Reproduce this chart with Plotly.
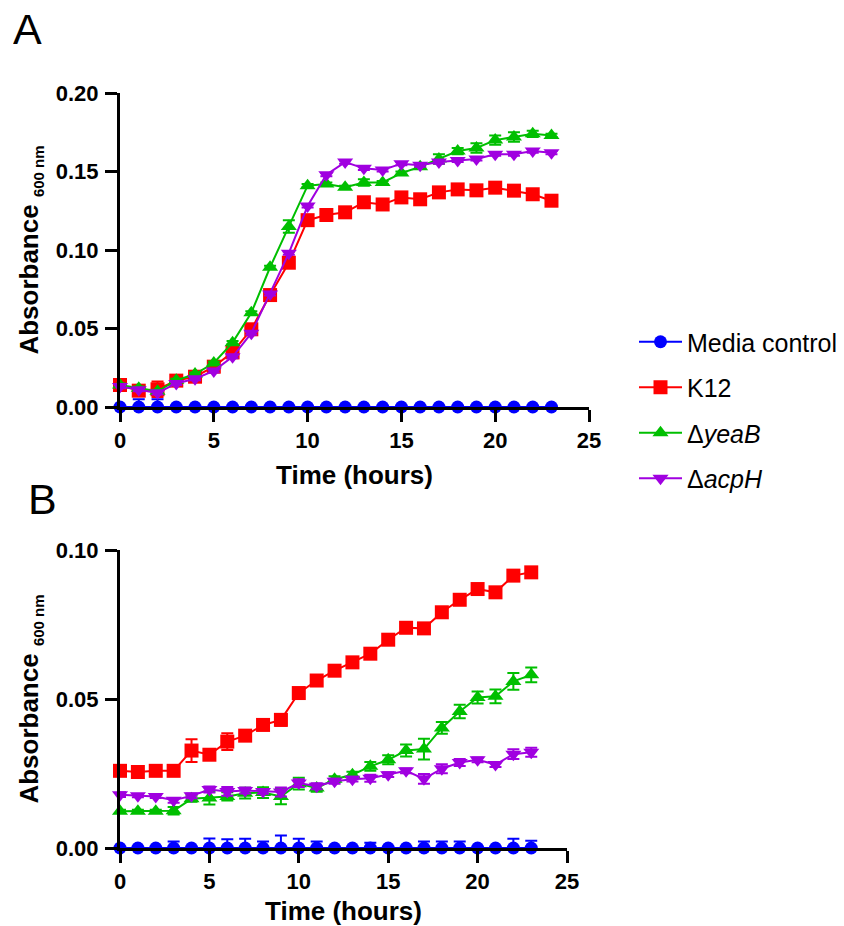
import plotly.graph_objects as go

hours = list(range(24))

# Panel A
a_media = [0.0] * 24
a_k12 = [0.014, 0.0104, 0.0113, 0.0168, 0.0193, 0.0257, 0.0348, 0.0495, 0.0713, 0.0919,
         0.119, 0.1223, 0.124, 0.1304, 0.129, 0.1335, 0.1323, 0.1367, 0.1386, 0.138,
         0.1397, 0.1378, 0.1355, 0.1314]
a_yeab = [0.014, 0.012, 0.010, 0.017, 0.021, 0.028, 0.041, 0.060, 0.089, 0.115,
          0.141, 0.142, 0.140, 0.143, 0.143, 0.149, 0.153, 0.158, 0.163, 0.165,
          0.170, 0.172, 0.174, 0.173]
a_acph = [0.013, 0.011, 0.009, 0.015, 0.018, 0.023, 0.032, 0.047, 0.072, 0.098,
          0.128, 0.148, 0.156, 0.152, 0.151, 0.155, 0.154, 0.156, 0.157, 0.158,
          0.161, 0.161, 0.163, 0.162]
a_media_err = [0, 0.005, 0.005] + [0] * 21
a_k12_err = [0.001, 0.003, 0.005] + [0.001] * 21
a_yeab_err = [0.001] * 9 + [0.004, 0.001, 0.001, 0.001, 0.002, 0.001, 0.001, 0.001, 0.003,
                            0.002, 0.003, 0.003, 0.003, 0.002, 0.001]
a_acph_err = [0.001] * 24

# Panel B
b_media = [0.0] * 24
b_k12 = [0.0259, 0.0255, 0.0259, 0.0259, 0.0327, 0.0313, 0.0357, 0.0377, 0.0413, 0.0430,
         0.052, 0.0562, 0.0595, 0.0623, 0.0652, 0.0699, 0.0739, 0.0737, 0.0791, 0.0833,
         0.0869, 0.0858, 0.0914, 0.0925]
b_yeab = [0.0123, 0.0123, 0.0123, 0.0125, 0.0165, 0.0168, 0.0173, 0.0184, 0.0186, 0.0173,
          0.0216, 0.0201, 0.0231, 0.0246, 0.0274, 0.0296, 0.0327, 0.0332, 0.0403, 0.0458,
          0.0505, 0.0509, 0.0559, 0.0581]
b_acph = [0.0179, 0.0175, 0.0173, 0.0160, 0.0175, 0.0196, 0.019, 0.0193, 0.019, 0.0188,
          0.0218, 0.0207, 0.0224, 0.0231, 0.0234, 0.0246, 0.0259, 0.0232, 0.0266, 0.0287,
          0.0296, 0.028, 0.0315, 0.0321]
b_media_err = [0, 0, 0, 0.0022, 0, 0.0032, 0.0029, 0.0031, 0.0022, 0.0042, 0.0031, 0.0022,
               0, 0, 0.0018, 0, 0, 0.0022, 0.0022, 0.0022, 0, 0, 0.0031, 0.0024]
b_k12_err = [0.0005, 0.0005, 0.0005, 0.0005, 0.0038, 0.0015, 0.0028, 0.001, 0.001, 0.002,
             0.001, 0.0008, 0.0008, 0.0008, 0.0008, 0.0008, 0.0008, 0.0015, 0.001, 0.001,
             0.0008, 0.001, 0.0018, 0.0016]
b_yeab_err = [0.0005, 0.0005, 0.0005, 0.0013, 0.001, 0.0022, 0.0014, 0.0018, 0.0018, 0.0026,
              0.002, 0.0012, 0.001, 0.001, 0.0015, 0.0015, 0.002, 0.0035, 0.002, 0.0023,
              0.002, 0.0023, 0.0028, 0.0025]
b_acph_err = [0.0008, 0.0005, 0.0005, 0.0008, 0.0008, 0.001, 0.0015, 0.001, 0.0008, 0.0015,
              0.0013, 0.001, 0.0008, 0.0008, 0.0012, 0.0008, 0.0008, 0.0016, 0.0015, 0.0012,
              0.0008, 0.0008, 0.0016, 0.0015]

names = ["Media control", "K12", "Δ<i>yeaB</i>", "Δ<i>acpH</i>"]
colors = ["#0000ff", "#ff0000", "#00bf00", "#a000e0"]
symbols = ["circle", "square", "triangle-up", "triangle-down"]
msizes = [13, 14, 14, 14]

FONT = "Liberation Sans, Arial, sans-serif"
W, H, OFF = 844, 926, 8  # page body margin offset


def px(sx):
    return (sx - OFF) / W


def py(sy):
    return 1 - (sy - OFF) / H


fig = go.Figure()

panels = [
    ("x", "y", [a_media, a_k12, a_yeab, a_acph], [a_media_err, a_k12_err, a_yeab_err, a_acph_err], True),
    ("x2", "y2", [b_media, b_k12, b_yeab, b_acph], [b_media_err, b_k12_err, b_yeab_err, b_acph_err], False),
]
for xa, ya, series, errs, show in panels:
    for i in range(4):
        minus = [0] * len(errs[i]) if i == 0 else errs[i]
        fig.add_trace(go.Scatter(
            x=hours, y=series[i], xaxis=xa, yaxis=ya,
            mode="lines+markers", name=names[i], showlegend=show,
            legendgroup=f"g{i}",
            line=dict(color=colors[i], width=2),
            marker=dict(symbol=symbols[i], size=msizes[i], color=colors[i]),
            error_y=dict(type="data", array=errs[i], arrayminus=minus, symmetric=False,
                         color=colors[i], thickness=2, width=6),
            cliponaxis=False,
        ))

axis_common = dict(
    showgrid=False, zeroline=False, showline=True, linecolor="black", linewidth=3,
    ticks="outside", ticklen=12, tickwidth=3, tickcolor="black",
    tickfont=dict(family=FONT, size=22, color="black", weight="bold"),
    automargin=False,
)

ytitle = "<b>Absorbance <sub><span style='font-size:15px'>600 nm</span></sub></b>"
xtitle = "<b>Time (hours)</b>"

fig.update_layout(
    width=W, height=H,
    margin=dict(l=0, r=0, t=0, b=0, autoexpand=False),
    plot_bgcolor="white", paper_bgcolor="white",
    font=dict(family=FONT, color="black"),
    xaxis=dict(domain=[px(120), px(589)], range=[0, 25], tickvals=[0, 5, 10, 15, 20, 25],
               anchor="y", ticklabelstandoff=0,
               title=dict(text=xtitle, font=dict(family=FONT, size=26), standoff=14),
               **axis_common),
    yaxis=dict(domain=[py(407), py(93)], range=[0, 0.20], tickvals=[0, 0.05, 0.10, 0.15, 0.20],
               tickformat=".2f", anchor="x", ticklabelstandoff=2,
               title=dict(text=ytitle, font=dict(family=FONT, size=26), standoff=10),
               **axis_common),
    xaxis2=dict(domain=[px(120), px(567)], range=[0, 25], tickvals=[0, 5, 10, 15, 20, 25],
                anchor="y2", ticklabelstandoff=0,
                title=dict(text=xtitle, font=dict(family=FONT, size=26), standoff=9),
                **axis_common),
    yaxis2=dict(domain=[py(848), py(550)], range=[0, 0.10], tickvals=[0, 0.05, 0.10],
                tickformat=".2f", anchor="x2", ticklabelstandoff=2,
                title=dict(text=ytitle, font=dict(family=FONT, size=26), standoff=10),
                **axis_common),
    legend=dict(x=px(634), y=py(319), xanchor="left", yanchor="top",
                font=dict(family=FONT, size=25, color="black"),
                itemwidth=43,
                tracegroupgap=10, bgcolor="rgba(0,0,0,0)"),
    annotations=[
        dict(text="A", x=px(11), y=py(10), xref="paper", yref="paper",
             xanchor="left", yanchor="top", showarrow=False, height=34, valign="middle",
             font=dict(family=FONT, size=43, color="black")),
        dict(text="B", x=px(26), y=py(480), xref="paper", yref="paper",
             xanchor="left", yanchor="top", showarrow=False, height=34, valign="middle",
             font=dict(family=FONT, size=43, color="black")),
    ],
)

fig.write_html("out.html")
